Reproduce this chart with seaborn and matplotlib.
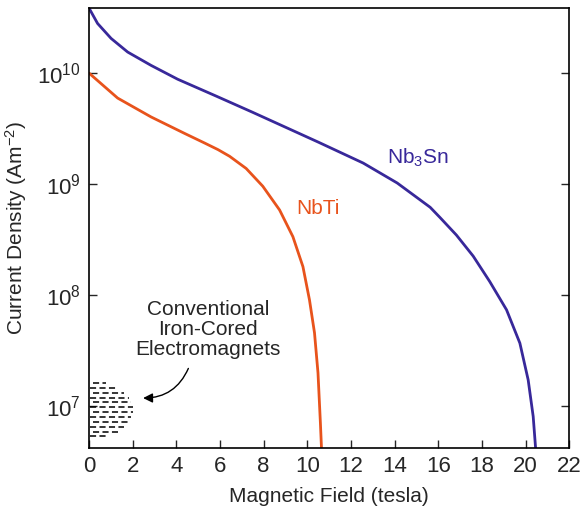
import numpy as np
import pandas as pd
import matplotlib
matplotlib.use("Agg")
import matplotlib.pyplot as plt
import seaborn as sns

# critical current density vs field (log10 of J)
nb3sn_field = [0.0, 0.39, 1.01, 1.77, 2.84, 4.06, 5.80, 7.47, 8.98, 10.50, 12.56, 14.12,
               15.63, 16.07, 16.83, 17.60, 18.36, 19.13, 19.74, 20.12, 20.35, 20.46]
nb3sn_logj = [10.586, 10.448, 10.313, 10.19, 10.07, 9.945, 9.795, 9.649, 9.514, 9.378,
              9.189, 9.009, 8.79, 8.70, 8.54, 8.35, 8.12, 7.865, 7.565, 7.234, 6.904, 6.62]
nbti_field = [0.0, 1.31, 2.84, 4.37, 5.29, 5.91, 6.44, 7.20, 7.96, 8.73, 9.34, 9.80,
              10.10, 10.33, 10.49, 10.60, 10.65]
nbti_logj = [10.0, 9.775, 9.605, 9.457, 9.37, 9.31, 9.25, 9.14, 8.98, 8.766, 8.525,
             8.255, 7.955, 7.658, 7.297, 6.847, 6.62]

# region of conventional iron-cored magnets
magnet_field_max = 2.0
magnet_j_lo = 5.3e6
magnet_j_hi = 1.6e7

x_ticks = [0, 2, 4, 6, 8, 10, 12, 14, 16, 18, 20, 22]
y_ticks = [1e7, 1e8, 1e9, 1e10]

orange = "#E8531C"
blue = "#38289A"

sns.set_style("ticks")
plt.rcParams["font.family"] = ["Liberation Sans", "DejaVu Sans"]
plt.rcParams["mathtext.fontset"] = "custom"
plt.rcParams["mathtext.rm"] = "Liberation Sans"
plt.rcParams["mathtext.it"] = "Liberation Sans:italic"

df = pd.concat([
    pd.DataFrame({"field": nb3sn_field, "J": 10 ** np.array(nb3sn_logj), "wire": "Nb3Sn"}),
    pd.DataFrame({"field": nbti_field, "J": 10 ** np.array(nbti_logj), "wire": "NbTi"}),
])

fig = plt.figure(figsize=(5.82, 5.09), dpi=100)
ax = fig.add_axes([0.153, 0.120, 0.825, 0.864])

sns.lineplot(data=df, x="field", y="J", hue="wire", palette={"Nb3Sn": blue, "NbTi": orange},
             lw=2, legend=False, ax=ax, sort=False, estimator=None)
ax.set_yscale("log")

# dashed half-ellipse for electromagnets
ly = np.linspace(np.log10(magnet_j_lo), np.log10(magnet_j_hi), 12)
yc = (ly[0] + ly[-1]) / 2
hh = (ly[-1] - ly[0]) / 2 * 1.08
lens = magnet_field_max * np.sqrt(1 - ((ly - yc) / hh) ** 2)
for k, (yy, ll) in enumerate(zip(ly, lens)):
    ax.plot([0.05 + 0.12 * (k % 2), ll], [10 ** yy, 10 ** yy], color="black", lw=1.1,
            ls=(0, (4, 2.2)))

ax.annotate("", xy=(2.35, 10 ** 7.07), xytext=(4.6, 10 ** 7.36),
            arrowprops=dict(arrowstyle="-|>", color="black", lw=1,
                            connectionstyle="arc3,rad=-0.35", mutation_scale=14))
ax.text(5.45, 10 ** 7.69, "Conventional\nIron-Cored\nElectromagnets", ha="center", va="center",
        fontsize=15, linespacing=1.05)

ax.text(10.5, 10 ** 8.78, "NbTi", color=orange, fontsize=15, ha="center", va="center")
ax.text(15.05, 10 ** 9.24, "Nb$_3$Sn", color=blue, fontsize=15, ha="center", va="center")

ax.set_xlim(0, 22)
ax.set_ylim(10 ** 6.62, 10 ** 10.586)
ax.set_xticks(x_ticks)
ax.set_yticks(y_ticks)
ax.yaxis.set_minor_locator(matplotlib.ticker.NullLocator())
ax.tick_params(direction="in", length=6, width=1, labelsize=16, right=True, top=False, pad=6)
ax.set_xlabel("Magnetic Field (tesla)", fontsize=15, labelpad=7)
ax.set_ylabel("Current Density (Am$^{-2}$)", fontsize=15, labelpad=6)
for s in ax.spines.values():
    s.set_visible(True)
    s.set_linewidth(1.2)
    s.set_color("black")

fig.savefig("out.png", dpi=100)
